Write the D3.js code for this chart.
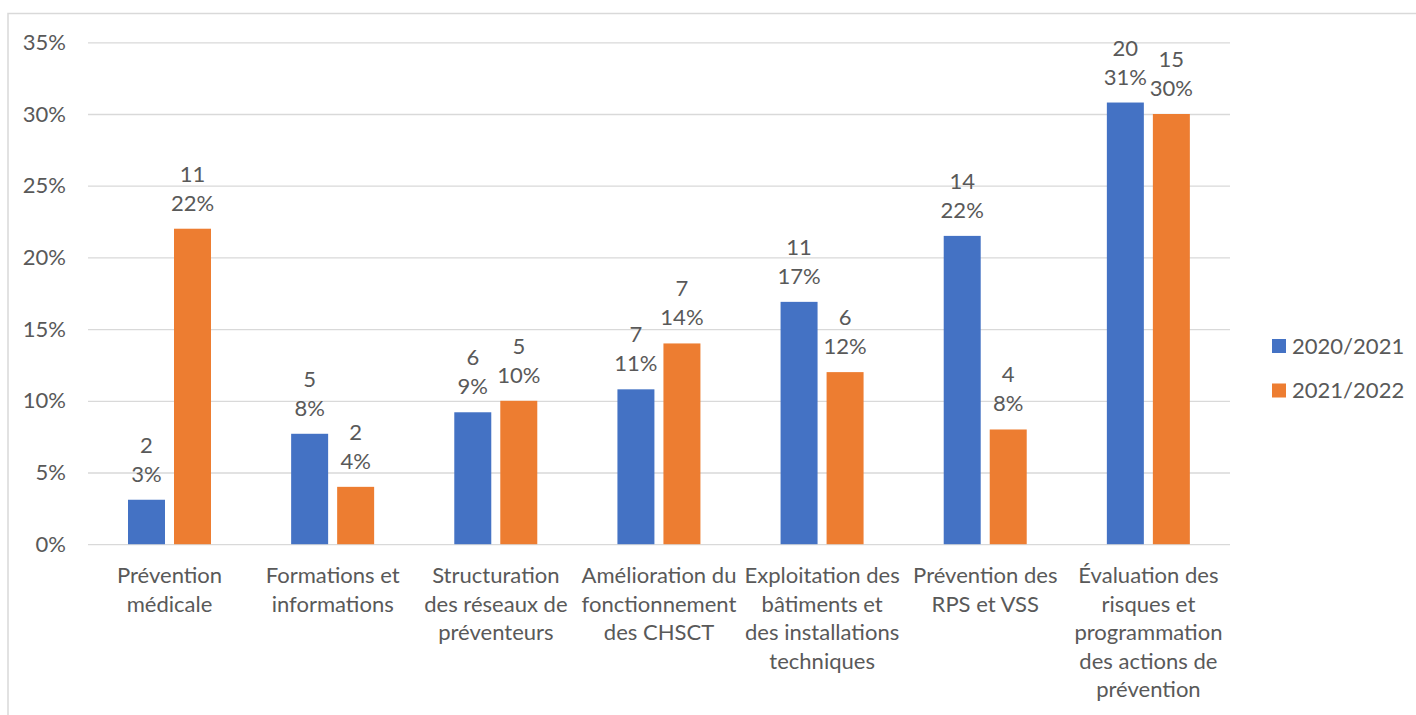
<!DOCTYPE html>
<html>
<head>
<meta charset="utf-8">
<script src="https://cdn.jsdelivr.net/npm/d3@7"></script>
<style>
  html, body { margin: 0; padding: 0; background: #fff; }
  svg { display: block; }
  text { font-family: Lato, "Open Sans", sans-serif; fill: #595959; }
</style>
</head>
<body>
<svg id="chart" width="1416" height="715"></svg>
<script>
const categories = [
  "Prévention\nmédicale",
  "Formations et\ninformations",
  "Structuration\ndes réseaux de\npréventeurs",
  "Amélioration du\nfonctionnement\ndes CHSCT",
  "Exploitation des\nbâtiments et\ndes installations\ntechniques",
  "Prévention des\nRPS et VSS",
  "Évaluation des\nrisques et\nprogrammation\ndes actions de\nprévention"
];
const series = ["2020/2021", "2021/2022"];
const share2020 = [0.031, 0.077, 0.092, 0.108, 0.169, 0.215, 0.308];
const share2021 = [0.22, 0.04, 0.10, 0.14, 0.12, 0.08, 0.30];
const count2020 = [2, 5, 6, 7, 11, 14, 20];
const count2021 = [11, 2, 5, 7, 6, 4, 15];
const yTicks = [0, 0.05, 0.10, 0.15, 0.20, 0.25, 0.30, 0.35];
const colors = ["#4472C4", "#ED7D31"];

const svg = d3.select("#chart");

// fit font size to the reference label width
const probe = svg.append("text").attr("font-size", 100).text("Amélioration du");
const fs = 100 * 155 / probe.node().getComputedTextLength();
probe.remove();

// chart border
svg.append("path")
  .attr("d", "M8,716 V13.5 H1417")
  .attr("fill", "none").attr("stroke", "#d9d9d9").attr("stroke-width", 1.5);

const y = d3.scaleLinear().domain([0, 0.35]).range([544.2, 42.3]);
const x0 = d3.scaleBand().domain(categories).range([88, 1230]);
const x1 = d3.scaleBand().domain(series).range([40, 123]).paddingInner(0.196);

// grid
const yAxis = d3.axisLeft(y).tickValues(yTicks).tickFormat(d3.format(".0%"))
  .tickSize(-(1230 - 88)).tickPadding(22);
const ga = svg.append("g").attr("transform", "translate(88,0)").call(yAxis);
ga.select(".domain").remove();
ga.selectAll(".tick line").attr("stroke", "#d9d9d9").attr("stroke-width", 1.3);
ga.selectAll(".tick text").attr("font-size", fs).attr("fill", "#595959")
  .style("font-family", "Lato, 'Open Sans', sans-serif");

const data = categories.map((c, i) => ({
  cat: c,
  vals: [
    { s: series[0], v: share2020[i], n: count2020[i], col: colors[0] },
    { s: series[1], v: share2021[i], n: count2021[i], col: colors[1] }
  ]
}));

const groups = svg.append("g").selectAll("g").data(data).join("g")
  .attr("transform", d => `translate(${x0(d.cat)},0)`);

groups.selectAll("rect").data(d => d.vals).join("rect")
  .attr("x", d => x1(d.s))
  .attr("width", x1.bandwidth())
  .attr("y", d => y(d.v))
  .attr("height", d => y(0) - y(d.v))
  .attr("fill", d => d.col);

groups.selectAll("text.pct").data(d => d.vals).join("text")
  .attr("class", "pct")
  .attr("x", d => x1(d.s) + x1.bandwidth() / 2)
  .attr("y", d => y(d.v) - 18)
  .attr("text-anchor", "middle").attr("font-size", fs)
  .text(d => d3.format(".0%")(d.v));

groups.selectAll("text.cnt").data(d => d.vals).join("text")
  .attr("class", "cnt")
  .attr("x", d => x1(d.s) + x1.bandwidth() / 2)
  .attr("y", d => y(d.v) - 47)
  .attr("text-anchor", "middle").attr("font-size", fs)
  .text(d => d.n);

// category labels
groups.append("text")
  .attr("text-anchor", "middle").attr("font-size", fs)
  .selectAll("tspan").data(d => d.cat.split("\n")).join("tspan")
  .attr("x", x0.bandwidth() / 2)
  .attr("y", (d, i) => 583 + i * 28.5)
  .text(d => d);

// legend
const lg = svg.append("g").selectAll("g").data(series).join("g")
  .attr("transform", (d, i) => `translate(1272,${346 + i * 44.5})`);
lg.append("rect").attr("x", 0).attr("y", -7).attr("width", 14).attr("height", 14)
  .attr("fill", (d, i) => colors[i]);
lg.append("text").attr("x", 20).attr("y", 7.5).attr("font-size", fs).text(d => d);
</script>
</body>
</html>
